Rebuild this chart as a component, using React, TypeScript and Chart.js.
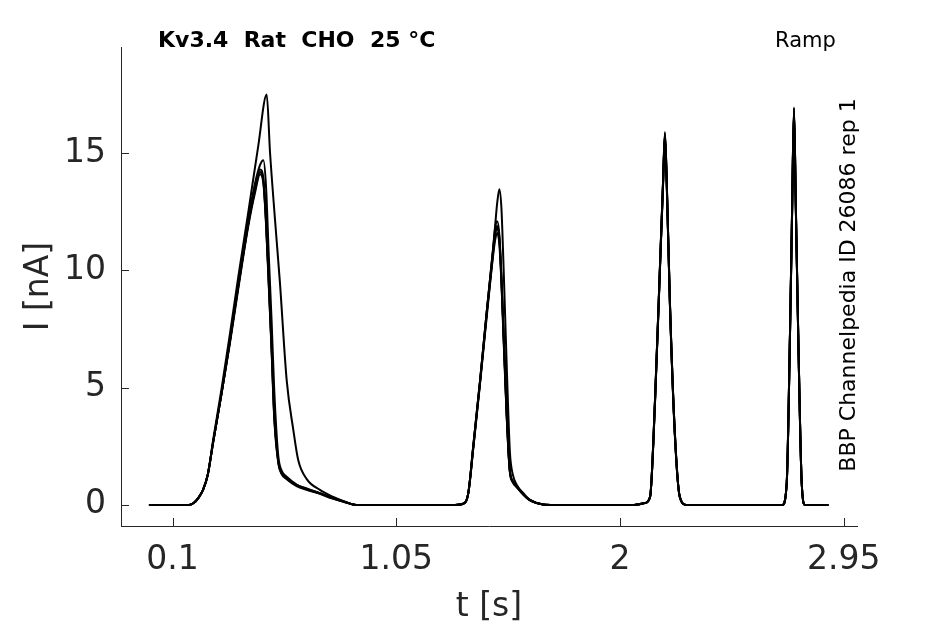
import React, { useEffect, useRef } from "react";
import { Chart, registerables } from "chart.js";

Chart.register(...registerables);

// ---- data (time in s, current in nA) ----
const timeTall = [
  0, 0.17, 0.19, 0.21, 0.23, 0.25, 0.273, 0.309, 0.344, 0.379, 0.422, 0.464, 0.5, 0.514, 0.535, 0.556, 0.585,
  0.613, 0.634, 0.67, 0.726, 0.78, 0.83, 0.88,
  1.3, 1.335, 1.356, 1.377, 1.406, 1.434, 1.462, 1.47, 1.479, 1.488, 1.497, 1.505, 1.512, 1.519, 1.526, 1.533,
  1.545, 1.562, 1.59, 1.618, 1.674, 1.72,
  2.06, 2.106, 2.128, 2.149, 2.17, 2.183, 2.191, 2.199, 2.212, 2.233, 2.254, 2.283, 2.32,
  2.69, 2.708, 2.722, 2.731, 2.739, 2.747, 2.757, 2.772, 2.786, 2.885,
];
const currentTall = [
  0, 0, 0.08, 0.3, 0.65, 1.3, 2.8, 5.0, 7.3, 9.7, 12.5, 15.3, 17.5, 15.05, 12.2, 9.5, 5.3,
  3.2, 1.9, 1.1, 0.64, 0.35, 0.15, 0,
  0, 0.05, 0.5, 2.5, 5.3, 8.2, 11.0, 11.9, 12.9, 13.46, 12.6, 10.4, 8.2, 6.0, 3.9, 2.2,
  1.3, 0.85, 0.5, 0.22, 0.02, 0,
  0, 0.08, 0.35, 4.5, 10.2, 13.8, 15.9, 13.7, 8.7, 3.1, 0.35, 0, 0,
  0, 0.9, 7.3, 12.6, 16.96, 12.7, 7.3, 0.9, 0, 0,
];

const timeRest = [
  0, 0.17, 0.19, 0.21, 0.23, 0.25, 0.273, 0.309, 0.344, 0.379, 0.422, 0.45, 0.472, 0.486, 0.497, 0.509, 0.521,
  0.532, 0.549, 0.564, 0.585, 0.627, 0.67, 0.726, 0.78, 0.83, 0.88,
  1.3, 1.335, 1.356, 1.377, 1.406, 1.434, 1.462, 1.47, 1.479, 1.488, 1.497, 1.505, 1.512, 1.519, 1.526, 1.533,
  1.545, 1.562, 1.59, 1.618, 1.674, 1.72,
  2.06, 2.106, 2.128, 2.149, 2.17, 2.183, 2.191, 2.199, 2.212, 2.233, 2.254, 2.283, 2.32,
  2.69, 2.708, 2.722, 2.731, 2.739, 2.747, 2.757, 2.772, 2.786, 2.885,
];
const currentB = [
  0, 0, 0.08, 0.3, 0.65, 1.3, 2.7, 4.8, 7.0, 9.4, 12.2, 13.7, 14.5, 14.7, 13.6, 10.6, 7.8,
  4.9, 2.1, 1.45, 1.2, 0.87, 0.7, 0.5, 0.3, 0.14, 0,
  0, 0.05, 0.5, 2.5, 5.3, 8.2, 11.0, 11.8, 12.1, 11.5, 9.7, 7.6, 5.8, 4.0, 2.5, 1.45,
  1.0, 0.8, 0.45, 0.2, 0.02, 0,
  0, 0.08, 0.35, 4.5, 10.2, 13.8, 15.85, 13.7, 8.7, 3.1, 0.35, 0, 0,
  0, 0.9, 7.3, 12.6, 16.9, 12.7, 7.3, 0.9, 0, 0,
];
const currentC = [
  0, 0, 0.08, 0.3, 0.65, 1.3, 2.7, 4.8, 7.0, 9.3, 12.0, 13.5, 14.3, 13.9, 12.2, 9.5, 6.7,
  3.9, 1.9, 1.36, 1.15, 0.85, 0.68, 0.5, 0.3, 0.14, 0,
  0, 0.05, 0.5, 2.5, 5.3, 8.2, 10.9, 11.6, 11.9, 11.4, 9.6, 7.5, 5.7, 3.9, 2.4, 1.4,
  1.0, 0.78, 0.45, 0.2, 0.02, 0,
  0, 0.08, 0.35, 4.5, 10.2, 13.7, 15.8, 13.6, 8.7, 3.1, 0.35, 0, 0,
  0, 0.9, 7.3, 12.5, 16.85, 12.6, 7.3, 0.9, 0, 0,
];
const currentD = [
  0, 0, 0.08, 0.3, 0.65, 1.3, 2.7, 4.8, 7.0, 9.3, 12.0, 13.4, 14.2, 13.8, 12.1, 9.4, 6.6,
  3.8, 1.85, 1.35, 1.12, 0.83, 0.66, 0.48, 0.28, 0.12, 0,
  0, 0.05, 0.5, 2.4, 5.2, 8.1, 10.8, 11.5, 11.8, 11.3, 9.5, 7.4, 5.6, 3.8, 2.4, 1.4,
  0.98, 0.76, 0.44, 0.2, 0.02, 0,
  0, 0.08, 0.35, 4.4, 10.1, 13.7, 15.75, 13.6, 8.6, 3.0, 0.35, 0, 0,
  0, 0.9, 7.2, 12.5, 16.8, 12.6, 7.2, 0.9, 0, 0,
];
const currentE = [
  0, 0, 0.08, 0.3, 0.65, 1.3, 2.7, 4.8, 6.9, 9.2, 11.9, 13.3, 14.1, 13.7, 12.0, 9.3, 6.5,
  3.7, 1.8, 1.3, 1.1, 0.8, 0.64, 0.47, 0.27, 0.12, 0,
  0, 0.05, 0.5, 2.4, 5.2, 8.0, 10.7, 11.3, 11.6, 11.1, 9.4, 7.3, 5.5, 3.8, 2.3, 1.35,
  0.96, 0.75, 0.43, 0.19, 0.02, 0,
  0, 0.08, 0.35, 4.4, 10.1, 13.6, 15.7, 13.5, 8.6, 3.0, 0.35, 0, 0,
  0, 0.9, 7.2, 12.4, 16.75, 12.5, 7.2, 0.9, 0, 0,
];

const xTicks = [0.1, 1.05, 2, 2.95];
const xTickLabels = ["0.1", "1.05", "2", "2.95"];
const yTicks = [0, 5, 10, 15];
const yTickLabels = ["0", "5", "10", "15"];

const titleText = "Kv3.4  Rat  CHO  25 °C";
const protocolText = "Ramp";
const sideText = "BBP Channelpedia ID 26086 rep 1";
const xTitle = "t [s]";
const yTitle = "I [nA]";

const FONT = "'DejaVu Sans', 'Noto Sans', sans-serif";
const AXIS_COLOR = "#262626";

const traces = [
  { t: timeTall, i: currentTall },
  { t: timeRest, i: currentB },
  { t: timeRest, i: currentC },
  { t: timeRest, i: currentD },
  { t: timeRest, i: currentE },
];

const decorPlugin = {
  id: "decor",
  afterDraw(chart: any) {
    const { ctx, chartArea, scales } = chart;
    ctx.save();
    ctx.strokeStyle = AXIS_COLOR;
    ctx.lineWidth = 1;
    xTicks.forEach((v) => {
      const px = Math.round(scales.x.getPixelForValue(v)) + 0.5;
      ctx.beginPath();
      ctx.moveTo(px, chartArea.bottom);
      ctx.lineTo(px, chartArea.bottom - 8);
      ctx.stroke();
    });
    yTicks.forEach((v) => {
      const py = Math.round(scales.y.getPixelForValue(v)) + 0.5;
      ctx.beginPath();
      ctx.moveTo(chartArea.left, py);
      ctx.lineTo(chartArea.left + 8, py);
      ctx.stroke();
    });
    ctx.fillStyle = "#000";
    ctx.textBaseline = "alphabetic";
    ctx.textAlign = "left";
    ctx.font = `bold 22px ${FONT}`;
    ctx.fillText(titleText, 158, 47);
    ctx.font = `21px ${FONT}`;
    ctx.fillText(protocolText, 775, 47);
    ctx.font = `22px ${FONT}`;
    ctx.translate(849, 285);
    ctx.rotate(-Math.PI / 2);
    ctx.textAlign = "center";
    ctx.textBaseline = "middle";
    ctx.fillText(sideText, 0, 0);
    ctx.restore();
  },
};

export default function App() {
  const ref = useRef<HTMLCanvasElement | null>(null);

  useEffect(() => {
    if (!ref.current) return;
    const chart = new Chart(ref.current, {
      type: "line",
      data: {
        datasets: traces.map((tr) => ({
          data: tr.t.map((x, k) => ({ x, y: tr.i[k] })),
          borderColor: "#000",
          borderWidth: 2,
          pointRadius: 0,
          fill: false,
          cubicInterpolationMode: "monotone" as const,
        })),
      },
      options: {
        animation: false,
        responsive: false,
        maintainAspectRatio: false,
        layout: { padding: { left: 0, top: 47, right: 88, bottom: 0 } },
        plugins: { legend: { display: false }, tooltip: { enabled: false } },
        scales: {
          x: {
            type: "linear",
            min: -0.1187,
            max: 3.0066,
            afterBuildTicks: (s: any) => {
              s.ticks = xTicks.map((v) => ({ value: v }));
            },
            afterFit: (s: any) => {
              s.height = 98;
            },
            grid: { display: false, drawTicks: false },
            border: { display: true, color: AXIS_COLOR, width: 1 },
            ticks: {
              font: { family: FONT, size: 33 },
              color: AXIS_COLOR,
              padding: 15,
              maxRotation: 0,
              autoSkip: false,
              callback: (_v: any, idx: number) => xTickLabels[idx],
            },
            title: {
              display: true,
              text: xTitle,
              color: AXIS_COLOR,
              font: { family: FONT, size: 33, lineHeight: 1 },
              padding: { top: 0, bottom: 0 },
            },
          },
          y: {
            type: "linear",
            min: -0.9,
            max: 19.53,
            afterBuildTicks: (s: any) => {
              s.ticks = yTicks.map((v) => ({ value: v }));
            },
            afterFit: (s: any) => {
              s.width = 121;
            },
            grid: { display: false, drawTicks: false },
            border: { display: true, color: AXIS_COLOR, width: 1 },
            ticks: {
              font: { family: FONT, size: 33 },
              color: AXIS_COLOR,
              padding: 15,
              autoSkip: false,
              callback: (_v: any, idx: number) => yTickLabels[idx],
            },
            title: {
              display: true,
              text: yTitle,
              color: AXIS_COLOR,
              font: { family: FONT, size: 33, lineHeight: 1 },
              padding: { top: 23, bottom: 0 },
            },
          },
        },
      },
      plugins: [decorPlugin],
    });
    return () => chart.destroy();
  }, []);

  return (
    <div style={{ position: "absolute", left: 0, top: 0, width: 945, height: 624, background: "#fff" }}>
      <canvas ref={ref} width={945} height={624} style={{ display: "block" }} />
    </div>
  );
}
